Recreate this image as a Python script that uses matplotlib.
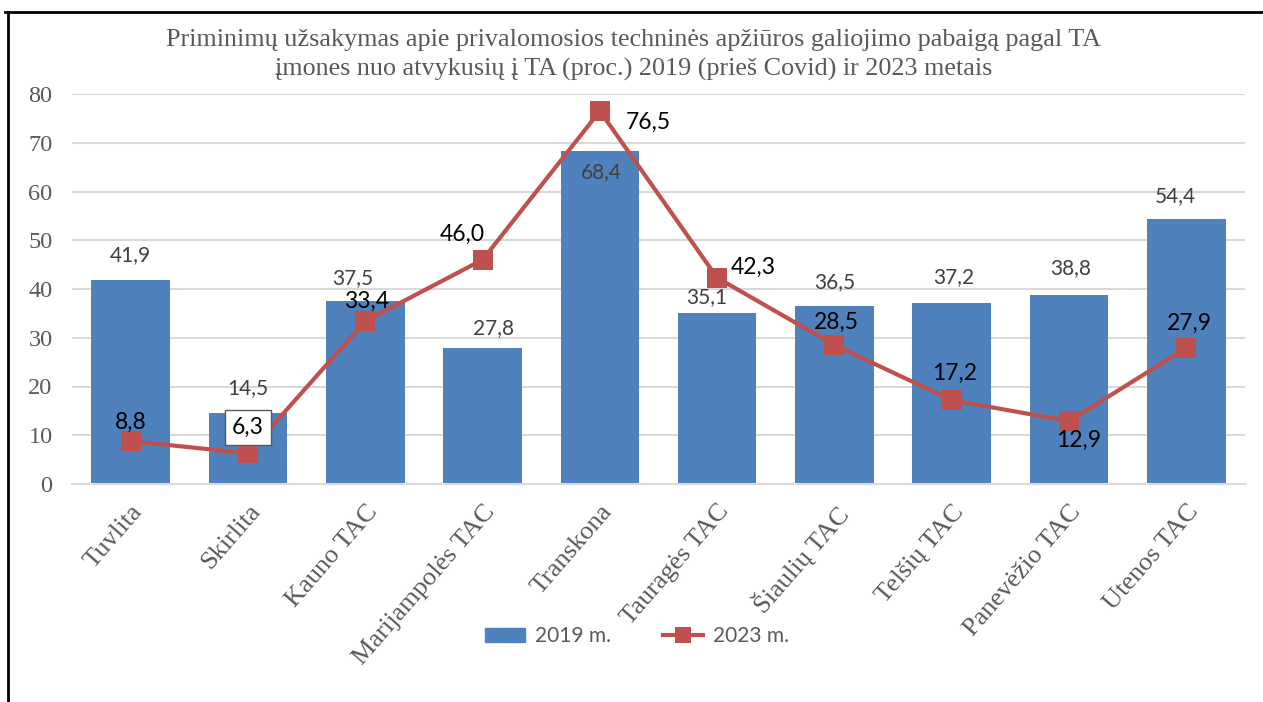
import matplotlib.pyplot as plt
from matplotlib.lines import Line2D
from matplotlib.patches import Patch

categories = ["Tuvlita", "Skirlita", "Kauno TAC", "Marijampolės TAC", "Transkona",
              "Tauragės TAC", "Šiaulių TAC", "Telšių TAC", "Panevėžio TAC", "Utenos TAC"]
values_2019 = [41.9, 14.5, 37.5, 27.8, 68.4, 35.1, 36.5, 37.2, 38.8, 54.4]
values_2023 = [8.8, 6.3, 33.4, 46.0, 76.5, 42.3, 28.5, 17.2, 12.9, 27.9]
y_ticks = [0, 10, 20, 30, 40, 50, 60, 70, 80]
title = ("Priminimų užsakymas apie privalomosios techninės apžiūros galiojimo pabaigą pagal TA\n"
         "įmones nuo atvykusių į TA (proc.) 2019 (prieš Covid) ir 2023 metais")

# label offsets in pixels (dx, dy), tuned by eye
off_2019 = [(0, 25), (0, 25), (-13, 23), (11, 20), (2, -22),
            (-10, 16), (0, 24), (2, 26), (2, 27), (-11, 23)]
off_2023 = [(0, 19), (0, 26), (1, 20), (-20, 25), (48, -11),
            (36, 10), (2, 23), (3, 27), (10, -19), (3, 25)]
boxed_2023 = {1}

BAR = "#4F81BD"
LINE = "#C0504D"
GRAY = "#595959"
SERIF = "Liberation Serif"
SANS = "Lato"

def fmt(v):
    return f"{v:.1f}".replace(".", ",")

fig = plt.figure(figsize=(12.63, 7.02), dpi=100)
ax = fig.add_axes([72 / 1263, 1 - 484 / 702, (1245 - 72) / 1263, (484 - 94) / 702])

x = list(range(len(categories)))
ax.bar(x, values_2019, width=0.67, color=BAR, zorder=2)
ax.plot(x, values_2023, color=LINE, lw=3, marker="s", markersize=14,
        markeredgewidth=0, zorder=3, solid_joinstyle="miter")

for i, v in enumerate(values_2019):
    dx, dy = off_2019[i]
    ax.annotate(fmt(v), (i, v), xytext=(dx, dy), textcoords="offset pixels",
                ha="center", va="center", fontsize=15, color="#404040",
                family=SANS, zorder=4)

for i, v in enumerate(values_2023):
    dx, dy = off_2023[i]
    box = None
    if i in boxed_2023:
        box = dict(boxstyle="square,pad=0.3", fc="white", ec=GRAY, lw=1)
    ax.annotate(fmt(v), (i, v), xytext=(dx, dy), textcoords="offset pixels",
                ha="center", va="center", fontsize=16.5, color="black",
                family=SANS, bbox=box, zorder=5)

ax.set_xlim(-0.5, len(categories) - 0.5)
ax.set_ylim(0, 80)
ax.set_yticks(y_ticks)
ax.set_yticklabels([str(t) for t in y_ticks], family=SERIF, fontsize=17.5, color=GRAY)
ax.set_xticks(x)
ax.set_xticklabels(categories, rotation=49, ha="right", va="top",
                   rotation_mode="anchor", family=SERIF, fontsize=19, color=GRAY)
ax.tick_params(axis="both", length=0)
ax.tick_params(axis="x", pad=12)
ax.tick_params(axis="y", pad=14)
ax.grid(axis="y", color="#D9D9D9", lw=1.5, zorder=0)
ax.set_axisbelow(True)
for s in ["top", "right", "left"]:
    ax.spines[s].set_visible(False)
ax.spines["bottom"].set_color("#D9D9D9")
ax.spines["bottom"].set_linewidth(1.5)

fig.text(634 / 1263, 1 - 55 / 702, title, ha="center", va="center",
         family=SERIF, fontsize=18.8, color=GRAY, linespacing=1.35)

handles = [Patch(color=BAR, label="2019 m."),
           Line2D([], [], color=LINE, lw=3, marker="s", markersize=11,
                  markeredgewidth=0, label="2023 m.")]
leg = fig.legend(handles=handles, loc="center", ncol=2, frameon=False,
                 bbox_to_anchor=(637 / 1263, 1 - 636 / 702),
                 prop={"family": SANS, "size": 15}, handlelength=1.9,
                 handleheight=0.65, columnspacing=2.5, handletextpad=0.5)
for t in leg.get_texts():
    t.set_color(GRAY)

# outer frame of the original screenshot
fig.add_artist(Line2D([5 / 1263, 1], [1 - 12 / 702, 1 - 12 / 702],
                      color="black", lw=2, transform=fig.transFigure))
fig.add_artist(Line2D([8 / 1263, 8 / 1263], [0, 1 - 12 / 702],
                      color="black", lw=2, transform=fig.transFigure))

fig.savefig("out.png", dpi=100)
